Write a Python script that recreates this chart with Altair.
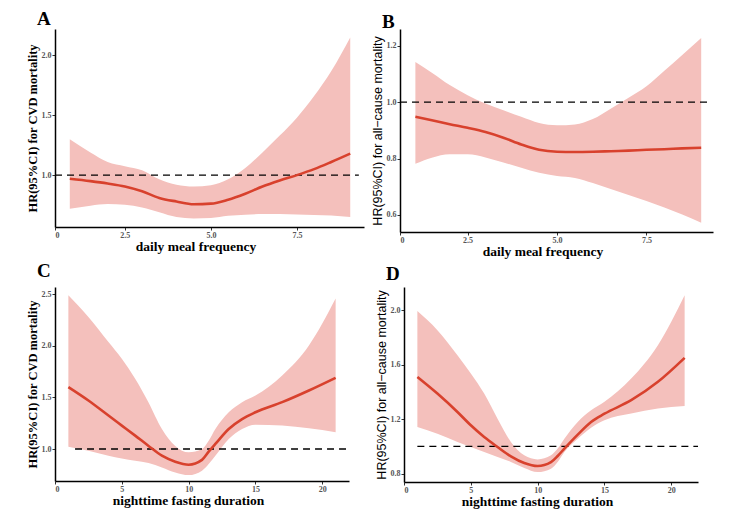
import altair as alt
import pandas as pd

# ---------- Panel A: daily meal frequency vs CVD mortality ----------
a_x = [0.9, 1.5, 2.0, 2.5, 3.0, 3.5, 4.0, 4.5, 5.0, 5.5, 6.0, 6.5, 7.0, 7.5, 8.0, 8.5, 9.05]
a_hr = [0.97, 0.95, 0.93, 0.905, 0.865, 0.81, 0.78, 0.757, 0.762, 0.795, 0.845, 0.905, 0.955, 1.0, 1.05, 1.11, 1.18]
a_lo = [0.72, 0.745, 0.758, 0.752, 0.73, 0.69, 0.65, 0.638, 0.642, 0.66, 0.67, 0.675, 0.675, 0.672, 0.668, 0.662, 0.65]
a_hi = [1.30, 1.19, 1.11, 1.075, 1.04, 0.965, 0.92, 0.905, 0.915, 0.965, 1.06, 1.19, 1.33, 1.48, 1.66, 1.87, 2.15]

# ---------- Panel B: daily meal frequency vs all-cause mortality ----------
b_x = [1.04, 1.5, 2.0, 2.5, 3.0, 3.5, 4.0, 4.5, 5.0, 5.5, 6.0, 6.5, 7.0, 7.5, 8.0, 8.5, 9.03]
b_hr = [0.948, 0.936, 0.922, 0.909, 0.894, 0.874, 0.85, 0.831, 0.824, 0.823, 0.824, 0.826, 0.828, 0.831, 0.833, 0.836, 0.838]
b_lo = [0.781, 0.803, 0.815, 0.815, 0.804, 0.786, 0.767, 0.749, 0.738, 0.731, 0.713, 0.692, 0.67, 0.649, 0.626, 0.601, 0.572]
b_hi = [1.143, 1.105, 1.061, 1.025, 0.995, 0.971, 0.948, 0.926, 0.918, 0.921, 0.94, 0.977, 1.016, 1.057, 1.112, 1.168, 1.228]

# ---------- Panel C: nighttime fasting duration vs CVD mortality ----------
c_x = [1, 2.5, 4, 5, 6, 7, 8, 9, 10, 11, 11.5, 12, 13, 14, 15, 17, 19, 21]
c_hr = [1.60, 1.47, 1.324, 1.227, 1.13, 1.03, 0.935, 0.877, 0.848, 0.895, 0.974, 1.049, 1.194, 1.29, 1.356, 1.454, 1.567, 1.69]
c_lo = [1.023, 0.984, 0.935, 0.909, 0.887, 0.864, 0.822, 0.773, 0.747, 0.79, 0.854, 0.935, 1.097, 1.194, 1.236, 1.227, 1.2, 1.162]
c_hi = [2.49, 2.28, 2.037, 1.875, 1.68, 1.45, 1.194, 1.03, 0.968, 1.0, 1.08, 1.194, 1.356, 1.454, 1.518, 1.713, 2.004, 2.458]

# ---------- Panel D: nighttime fasting duration vs all-cause mortality ----------
d_x = [1, 2.5, 4, 5, 6, 7, 8, 9, 10, 11, 11.5, 12, 13, 14, 15, 17, 19, 21]
d_hr = [1.51, 1.388, 1.253, 1.155, 1.069, 0.996, 0.927, 0.878, 0.856, 0.885, 0.93, 0.984, 1.087, 1.18, 1.24, 1.339, 1.474, 1.65]
d_lo = [1.143, 1.094, 1.033, 0.996, 0.959, 0.922, 0.886, 0.842, 0.812, 0.837, 0.886, 0.959, 1.057, 1.138, 1.192, 1.241, 1.278, 1.297]
d_hi = [1.993, 1.853, 1.669, 1.535, 1.388, 1.204, 1.033, 0.935, 0.905, 0.935, 0.984, 1.057, 1.18, 1.265, 1.327, 1.498, 1.743, 2.11]

LINE = "#d8412d"
BAND = "#f4c0bc"
SERIF = "Liberation Serif"
SANS = "Liberation Sans"


def panel(x, hr, lo, hi, xdom, xticks, xexpr, ydom, yticks, xtitle, ytitle,
          ytfont, ytweight, letter, w, h, toff, ruleframe, xtitle_dx):
    df = pd.DataFrame({"x": x, "hr": hr, "lo": lo, "hi": hi})
    xaxis = alt.Axis(values=xticks, labelExpr=xexpr, title=xtitle,
                     titleX=w / 2 + xtitle_dx, titlePadding=0, labelPadding=1)
    yaxis = alt.Axis(values=yticks, format=".1f", title=ytitle,
                     titleFont=ytfont, titleFontWeight=ytweight,
                     titlePadding=2, labelPadding=1)
    xs = alt.Scale(domain=xdom, nice=False, zero=False)
    ys = alt.Scale(domain=ydom, nice=False, zero=False)
    band = alt.Chart(df).mark_area(color=BAND, interpolate="monotone").encode(
        x=alt.X("x:Q", scale=xs, axis=xaxis),
        y=alt.Y("lo:Q", scale=ys, axis=yaxis),
        y2="hi:Q",
    )
    line = alt.Chart(df).mark_line(color=LINE, strokeWidth=2.6,
                                   interpolate="monotone").encode(
        x="x:Q", y="hr:Q"
    )
    rdf = pd.DataFrame({"y": [1.0], "x1": [ruleframe[0]], "x2": [ruleframe[1]]})
    rule = alt.Chart(rdf).mark_rule(color="black", strokeWidth=1.3,
                                    strokeDash=[7, 5]).encode(
        y="y:Q", x="x1:Q", x2="x2:Q"
    )
    return alt.layer(band, rule, line).properties(
        width=w, height=h,
        title=alt.TitleParams(letter, anchor="start", frame="group", dx=-18,
                              fontSize=19, font=SERIF, fontWeight="bold",
                              color="black", offset=toff),
    )


expr_ab = "datum.value < 1 ? '0' : format(datum.value, '.1f')"
expr_cd = "format(datum.value, 'd')"

pa = panel(a_x, a_hr, a_lo, a_hi, [0.47, 9.45], [0.47, 2.5, 5.0, 7.5], expr_ab,
           [0.567, 2.22], [1.0, 1.5, 2.0], "daily meal frequency",
           "HR(95%CI) for CVD mortality", SERIF, "bold", "A", 309, 198, 0,
           [0.47, 9.3], -14)
pb = panel(b_x, b_hr, b_lo, b_hi, [0.61, 9.36], [0.61, 2.5, 5.0, 7.5], expr_ab,
           [0.539, 1.26], [0.6, 0.8, 1.0, 1.2], "daily meal frequency",
           "HR(95%CI) for all\u2212cause mortality", SANS, "normal", "B", 313, 203, -3,
           [0.61, 9.2], -14)
pc = panel(c_x, c_hr, c_lo, c_hi, [0, 22], [0, 5, 10, 15, 20], expr_cd,
           [0.69, 2.57], [1.0, 1.5, 2.0, 2.5], "nighttime fasting duration",
           "HR(95%CI) for CVD mortality", SERIF, "bold", "C", 294, 194, 6,
           [1.5, 22], -14)
pd_ = panel(d_x, d_hr, d_lo, d_hi, [0, 22], [0, 5, 10, 15, 20], expr_cd,
            [0.739, 2.17], [0.8, 1.2, 1.6, 2.0], "nighttime fasting duration",
            "HR(95%CI) for all\u2212cause mortality", SANS, "normal", "D", 294, 195, 3,
            [1.0, 22], -14)

row1 = alt.hconcat(pa, pb, spacing=7)
row2 = alt.hconcat(pc, pd_, spacing=25)

chart = alt.vconcat(row1, row2, spacing=4).properties(
    padding={"left": 18, "top": 2, "right": 5, "bottom": 5},
    background="white",
).configure_view(stroke=None).configure_axis(
    grid=False,
    domainColor="black",
    domainWidth=1.5,
    tickColor="#333",
    tickSize=3,
    tickWidth=1,
    labelFont=SERIF,
    labelFontWeight="bold",
    labelFontSize=8,
    labelColor="#555",
    titleFont=SERIF,
    titleFontWeight="bold",
    titleFontSize=12.5,
    titleColor="black",
).configure_axisX(titleFontSize=13.5)

chart.save("out.html", embed_options={"renderer": "svg", "actions": False})
